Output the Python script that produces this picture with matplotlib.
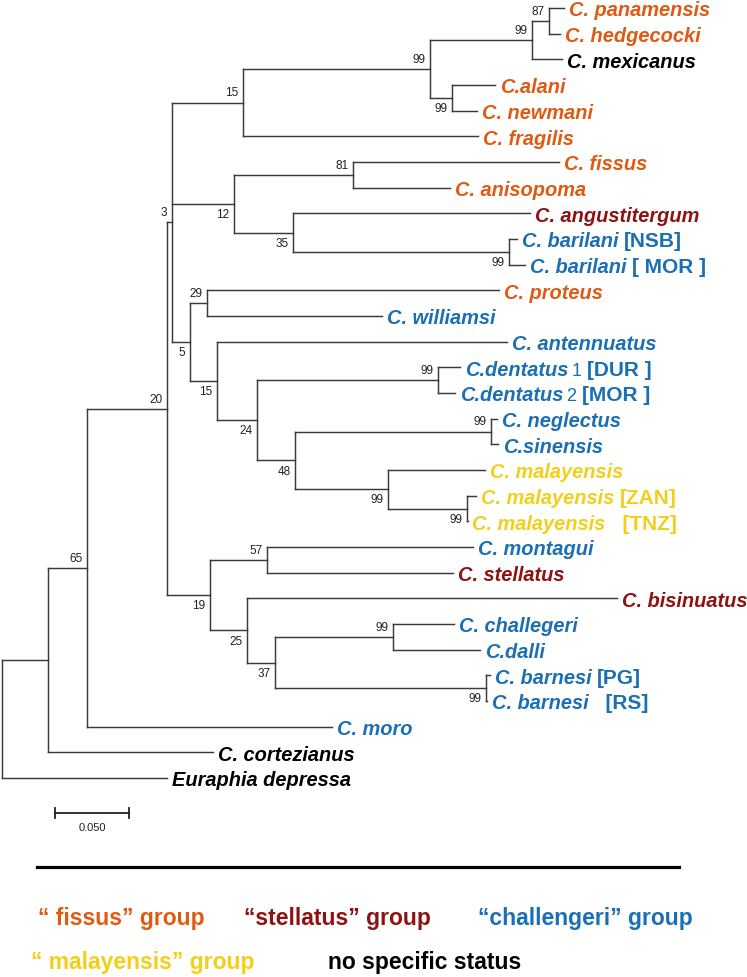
"""Neighbour-joining tree of Chthamalus COI sequences with bootstrap support."""
import matplotlib
matplotlib.use("Agg")
import matplotlib.pyplot as plt

plt.rcParams["font.family"] = ["Liberation Sans", "DejaVu Sans"]

COL = {"fissus": "#E05A12", "stellatus": "#8E1212", "challengeri": "#1B6FB5",
       "malayensis": "#F4CF1A", "none": "#000000"}

# internal nodes (parents always listed before children)
node_parent = [-1, 0, 1, 2, 3, 4, 5, 6, 7, 6, 4, 10, 10, 12, 4, 14, 14, 16, 17, 17,
               19, 19, 21, 3, 23, 23, 25, 26, 26]
node_len = [0.0, 0.0311, 0.0264, 0.0541, 0.0034, 0.0480, 0.1264, 0.0689, 0.0115, 0.0149,
            0.0419, 0.0804, 0.0399, 0.1459, 0.0122, 0.0115, 0.0182, 0.0270, 0.1223, 0.0257,
            0.1324, 0.0628, 0.0534, 0.0291, 0.0385, 0.0250, 0.0189, 0.0797, 0.1426]
node_boot = [None, None, 65, 20, 3, 15, 99, 99, 87, 99, 12, 81, 35, 99, 5, 29, 15, 24, 99, 48,
             99, 99, 99, 19, 57, 25, 37, 99, 99]
boot_side = ["", "", "a", "a", "a", "a", "a", "a", "a", "b", "b", "a", "b", "b", "b", "a", "b",
             "b", "a", "b", "a", "b", "b", "b", "a", "b", "b", "a", "b"]

# terminal taxa, top to bottom
leaf_name = ["C. panamensis", "C. hedgecocki", "C. mexicanus", "C.alani", "C. newmani",
             "C. fragilis", "C. fissus", "C. anisopoma", "C. angustitergum", "C. barilani",
             "C. barilani", "C. proteus", "C. williamsi", "C. antennuatus", "C.dentatus",
             "C.dentatus", "C. neglectus", "C.sinensis", "C. malayensis", "C. malayensis",
             "C. malayensis", "C. montagui", "C. stellatus", "C. bisinuatus", "C. challegeri",
             "C.dalli", "C. barnesi", "C. barnesi", "C. moro", "C. cortezianus",
             "Euraphia depressa"]
leaf_num = [""] * 14 + ["1", "2"] + [""] * 15
leaf_tag = ["", "", "", "", "", "", "", "", "", "[NSB]", "[ MOR ]", "", "", "", "[DUR ]",
            "[MOR ]", "", "", "", "[ZAN]", "  [TNZ]", "", "", "", "", "", "[PG]", "  [RS]",
            "", "", ""]
leaf_group = ["fissus", "fissus", "none", "fissus", "fissus", "fissus", "fissus", "fissus",
              "stellatus", "challengeri", "challengeri", "fissus", "challengeri",
              "challengeri", "challengeri", "challengeri", "challengeri", "challengeri",
              "malayensis", "malayensis", "malayensis", "challengeri", "stellatus",
              "stellatus", "challengeri", "challengeri", "challengeri", "challengeri",
              "challengeri", "none", "none"]
leaf_parent = [8, 8, 7, 9, 9, 5, 11, 11, 12, 13, 13, 15, 15, 16, 18, 18, 20, 20, 21, 22, 22,
               24, 24, 25, 27, 27, 28, 28, 2, 1, 0]
leaf_len = [0.0101, 0.0074, 0.0203, 0.0291, 0.0169, 0.1588, 0.1392, 0.0655, 0.1601, 0.0054,
            0.0108, 0.1973, 0.1182, 0.1959, 0.0149, 0.0115, 0.0041, 0.0047, 0.0655, 0.0061,
            0.0003, 0.1392, 0.1257, 0.2500, 0.0412, 0.0588, 0.0027, 0.0003, 0.1655, 0.1115,
            0.1115]
scale_len = 0.050

legend_txt = ["\u201c fissus\u201d group", "\u201cstellatus\u201d group",
              "\u201cchallengeri\u201d group", "\u201c malayensis\u201d group",
              "no specific status"]
legend_grp = ["fissus", "stellatus", "challengeri", "malayensis", "none"]

# ---- tree layout: x = distance from root, y = leaf order (node at mid of outer children)
n = len(node_parent)
node_x = [0.0] * n
for i in range(1, n):
    node_x[i] = node_x[node_parent[i]] + node_len[i]
leaf_x = [node_x[p] + l for p, l in zip(leaf_parent, leaf_len)]
leaf_y = list(range(len(leaf_name)))

child_y = [[] for _ in range(n)]
for j, p in enumerate(leaf_parent):
    child_y[p].append(leaf_y[j])
node_y = [0.0] * n
for i in range(n - 1, -1, -1):
    node_y[i] = (min(child_y[i]) + max(child_y[i])) / 2
    if node_parent[i] >= 0:
        child_y[node_parent[i]].append(node_y[i])

fig = plt.figure(figsize=(7.47, 9.78), dpi=100)
ax = fig.add_axes([0, 0, 1, 1])
ax.set_xlim(-2 / 1480, 745 / 1480)
ax.set_ylim((978 - 9) / 25.67, -9 / 25.67)
ax.axis("off")

kw = dict(color="#3a3a3a", lw=1.05, solid_capstyle="projecting")
for i in range(n):
    ax.plot([node_x[i]] * 2, [min(child_y[i]), max(child_y[i])], **kw)
    if node_parent[i] >= 0:
        ax.plot([node_x[node_parent[i]], node_x[i]], [node_y[i]] * 2, **kw)
    if node_boot[i] is not None:
        up = boot_side[i] == "a"
        ax.annotate(str(node_boot[i]), (node_x[i], node_y[i]), xytext=(-3.5, 3 if up else -3),
                    textcoords="offset points", ha="right", va="bottom" if up else "top",
                    fontsize=8.5, color="#222222")

for j in range(len(leaf_name)):
    ax.plot([node_x[leaf_parent[j]], leaf_x[j]], [leaf_y[j]] * 2, **kw)
    c = COL[leaf_group[j]]
    prev = ax.annotate(leaf_name[j], (leaf_x[j], leaf_y[j]), xytext=(3.5, -8.2),
                       textcoords="offset points", ha="left", va="bottom", fontsize=14.4,
                       fontweight="bold", fontstyle="italic", color=c)
    if leaf_num[j]:
        prev = ax.annotate(leaf_num[j], (1, 0), xycoords=prev, xytext=(2, 0),
                           textcoords="offset points", ha="left", va="bottom", fontsize=13,
                           color=c)
    if leaf_tag[j]:
        ax.annotate(leaf_tag[j], (1, 0), xycoords=prev, xytext=(4, 0),
                    textcoords="offset points", ha="left", va="bottom", fontsize=15,
                    fontweight="bold", color=c)

# scale bar
sx, sy = 53 / 1480, (814 - 9) / 25.67
ax.plot([sx, sx + scale_len], [sy, sy], color="#222222", lw=1.3)
for xx in (sx, sx + scale_len):
    ax.plot([xx, xx], [sy - 0.2, sy + 0.2], color="#222222", lw=1.3)
ax.text(sx + scale_len / 2, sy + 0.35, "%.3f" % scale_len, ha="center", va="top", fontsize=8,
        color="#222222")

# group key below a rule
fig.add_artist(plt.Line2D([37 / 747, 679 / 747], [1 - 868 / 978] * 2, color="black", lw=2.3,
                          transform=fig.transFigure))
lx = [38, 244, 478, 31, 328]
ly = [925, 925, 925, 969, 969]
for s, g, x, y in zip(legend_txt, legend_grp, lx, ly):
    fig.text(x / 747, 1 - y / 978, s, ha="left", va="baseline", fontsize=16.5,
             fontweight="bold", color=COL[g])

fig.savefig("out.png", dpi=100)
